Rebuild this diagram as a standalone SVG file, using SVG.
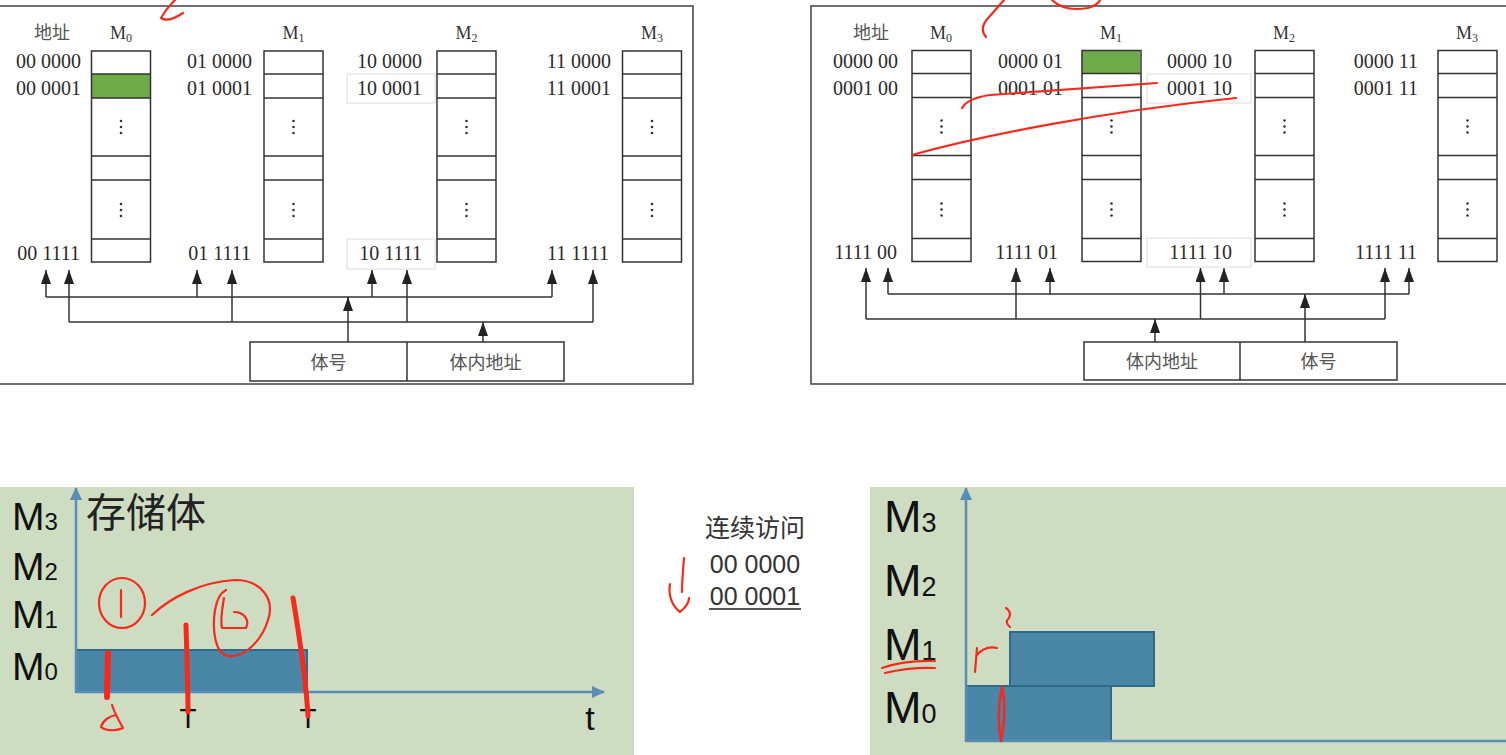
<svg xmlns="http://www.w3.org/2000/svg" width="1506" height="755" viewBox="0 0 1506 755">
<defs>
<style>
.frame{fill:none;stroke:#4d4d4d;stroke-width:1.6}
.cell{fill:none;stroke:#333;stroke-width:1.5}
.addr{font-family:"Liberation Serif",serif;font-size:20px;fill:#2b2b2b;text-anchor:end}
.mlab{font-family:"Liberation Serif",serif;font-size:18px;fill:#333;text-anchor:middle}
.cn{font-family:"Noto Sans CJK SC",sans-serif;font-size:18px;fill:#555;text-anchor:middle}
.hl{fill:none;stroke:#dcdcdc;stroke-width:1}
.wire{fill:none;stroke:#333;stroke-width:1.5}
.arr{fill:none;stroke:#333;stroke-width:1.5;marker-end:url(#ah)}
.green{fill:#6fab48}
.panel{fill:#cedcc1}
.axis{stroke:#5a8db5;stroke-width:2.5;fill:none}
.axarr{marker-end:url(#axh)}
.bar{fill:#4a86a7;stroke:#2f6a8b;stroke-width:2}
.big{font-family:"Liberation Sans",sans-serif;fill:#111}
.mid{font-family:"Liberation Sans","Noto Sans CJK SC",sans-serif;font-size:25px;fill:#333;text-anchor:middle}
.pen{fill:none;stroke:#f52a1c;stroke-width:2.2;stroke-linecap:round;stroke-linejoin:round}
</style>
<marker id="ah" markerUnits="userSpaceOnUse" markerWidth="14" markerHeight="10" refX="14" refY="5" orient="auto"><path d="M0,0 L14,5 L0,10 Z" fill="#222"/></marker>
<marker id="axh" markerUnits="userSpaceOnUse" markerWidth="14" markerHeight="12" refX="12" refY="6" orient="auto"><path d="M0,0 L13,6 L0,12 Z" fill="#5a8db5"/></marker>
<g id="colshape">
<rect x="0" y="51" width="59" height="211" class="cell"/>
<path d="M0,74H59M0,98H59M0,156H59M0,180H59M0,239H59" class="cell"/>
<g fill="#333"><circle cx="29.5" cy="121" r="1.3"/><circle cx="29.5" cy="127" r="1.3"/><circle cx="29.5" cy="133" r="1.3"/><circle cx="29.5" cy="204" r="1.3"/><circle cx="29.5" cy="210" r="1.3"/><circle cx="29.5" cy="216" r="1.3"/></g>
</g>
</defs>
<rect width="1506" height="755" fill="#fff"/>

<!-- top-left diagram -->
<g id="frameL"><rect x="-2" y="6" width="695" height="378" class="frame"/></g>
<g id="hlL"><rect x="347" y="74" width="88" height="29" class="hl"/><rect x="347" y="239" width="88" height="30" class="hl"/></g>
<g id="addrHeadL"><text x="52" y="39" class="cn">地址</text></g>
<g id="L-M0">
<rect x="91.5" y="74" width="59" height="24" class="green"/>
<use href="#colshape" transform="translate(91.5,0)"/>
<text x="121" y="39" class="mlab">M<tspan font-size="12" dy="3">0</tspan></text>
<text x="81" y="68" class="addr">00 0000</text><text x="81" y="95" class="addr">00 0001</text><text x="80" y="260" class="addr">00 1111</text>
</g>
<g id="L-M1">
<use href="#colshape" transform="translate(264,0)"/>
<text x="293.5" y="39" class="mlab">M<tspan font-size="12" dy="3">1</tspan></text>
<text x="252" y="68" class="addr">01 0000</text><text x="252" y="95" class="addr">01 0001</text><text x="251" y="260" class="addr">01 1111</text>
</g>
<g id="L-M2">
<use href="#colshape" transform="translate(437,0)"/>
<text x="466.5" y="39" class="mlab">M<tspan font-size="12" dy="3">2</tspan></text>
<text x="422" y="68" class="addr">10 0000</text><text x="422" y="95" class="addr">10 0001</text><text x="422" y="260" class="addr">10 1111</text>
</g>
<g id="L-M3">
<use href="#colshape" transform="translate(622.5,0)"/>
<text x="652" y="39" class="mlab">M<tspan font-size="12" dy="3">3</tspan></text>
<text x="611" y="68" class="addr">11 0000</text><text x="611" y="95" class="addr">11 0001</text><text x="609" y="260" class="addr">11 1111</text>
</g>
<g id="L-addrReg">
<rect x="250" y="342" width="314" height="39" class="cell"/>
<line x1="407" y1="342" x2="407" y2="381" class="cell"/>
<text x="328.5" y="369" class="cn">体号</text>
<text x="485.5" y="369" class="cn">体内地址</text>
</g>

<!-- top-right diagram -->
<g id="frameR"><rect x="811" y="6" width="700" height="378" class="frame"/></g>
<g id="hlR"><rect x="1147" y="74" width="104" height="29" class="hl"/><rect x="1147" y="238" width="104" height="29" class="hl"/></g>
<g id="addrHeadR"><text x="871" y="39" class="cn">地址</text></g>
<g id="R-M0">
<use href="#colshape" transform="translate(912,-0.5)"/>
<text x="941" y="39" class="mlab">M<tspan font-size="12" dy="3">0</tspan></text>
<text x="898" y="68" class="addr">0000 00</text><text x="898" y="95" class="addr">0001 00</text><text x="897" y="259" class="addr">1111 00</text>
</g>
<g id="R-M1">
<rect x="1082" y="50.5" width="58" height="23" class="green"/>
<use href="#colshape" transform="translate(1082,-0.5)"/>
<text x="1111" y="39" class="mlab">M<tspan font-size="12" dy="3">1</tspan></text>
<text x="1063" y="68" class="addr">0000 01</text><text x="1063" y="95" class="addr">0001 01</text><text x="1058" y="259" class="addr">1111 01</text>
</g>
<g id="R-M2">
<use href="#colshape" transform="translate(1255,-0.5)"/>
<text x="1284" y="39" class="mlab">M<tspan font-size="12" dy="3">2</tspan></text>
<text x="1232" y="68" class="addr">0000 10</text><text x="1232" y="95" class="addr">0001 10</text><text x="1232" y="259" class="addr">1111 10</text>
</g>
<g id="R-M3">
<use href="#colshape" transform="translate(1438,-0.5)"/>
<text x="1467" y="39" class="mlab">M<tspan font-size="12" dy="3">3</tspan></text>
<text x="1418" y="68" class="addr">0000 11</text><text x="1418" y="95" class="addr">0001 11</text><text x="1417" y="259" class="addr">1111 11</text>
</g>
<g id="R-addrReg">
<rect x="1084" y="342" width="313" height="38" class="cell"/>
<line x1="1240" y1="342" x2="1240" y2="380" class="cell"/>
<text x="1162" y="368" class="cn">体内地址</text>
<text x="1318.5" y="368" class="cn">体号</text>
</g>

<!-- connectors -->
<g id="connectors">
<path d="M46,297H552M69,322H593" class="wire"/>
<line x1="46" y1="297" x2="46" y2="270" class="arr"/>
<line x1="197" y1="297" x2="197" y2="270" class="arr"/>
<line x1="372" y1="297" x2="372" y2="270" class="arr"/>
<line x1="552" y1="297" x2="552" y2="270" class="arr"/>
<line x1="69" y1="322" x2="69" y2="270" class="arr"/>
<line x1="232" y1="322" x2="232" y2="270" class="arr"/>
<line x1="407" y1="322" x2="407" y2="270" class="arr"/>
<line x1="593" y1="322" x2="593" y2="270" class="arr"/>
<line x1="348" y1="342" x2="348" y2="297" class="arr"/>
<line x1="483" y1="342" x2="483" y2="322" class="arr"/>

<path d="M866,319H1385M888,294H1409" class="wire"/>
<line x1="866" y1="319" x2="866" y2="268" class="arr"/>
<line x1="1016" y1="319" x2="1016" y2="268" class="arr"/>
<line x1="1200.5" y1="319" x2="1200.5" y2="268" class="arr"/>
<line x1="1385" y1="319" x2="1385" y2="268" class="arr"/>
<line x1="888" y1="294" x2="888" y2="268" class="arr"/>
<line x1="1050" y1="294" x2="1050" y2="268" class="arr"/>
<line x1="1224" y1="294" x2="1224" y2="268" class="arr"/>
<line x1="1409" y1="294" x2="1409" y2="268" class="arr"/>
<line x1="1155" y1="342" x2="1155" y2="319" class="arr"/>
<line x1="1305" y1="342" x2="1305" y2="294" class="arr"/>
</g>

<!-- bottom-left timing chart -->
<g id="chartL">
<rect x="0" y="487" width="634" height="268" class="panel"/>
<rect x="76" y="650" width="231" height="42" class="bar"/>
<line x1="76" y1="692" x2="76" y2="488" class="axis axarr"/>
<line x1="76" y1="692" x2="604" y2="692" class="axis axarr"/>
<text x="12" y="530" class="big" font-size="39">M<tspan font-size="24">3</tspan></text>
<text x="12" y="580" class="big" font-size="39">M<tspan font-size="24">2</tspan></text>
<text x="12" y="628" class="big" font-size="39">M<tspan font-size="24">1</tspan></text>
<text x="12" y="680" class="big" font-size="39">M<tspan font-size="24">0</tspan></text>
<text x="86" y="527" font-family="Noto Sans CJK SC,sans-serif" font-size="40" fill="#222">存储体</text>
<text x="590" y="730" class="big" font-size="34" text-anchor="middle">t</text>
<text x="188" y="728" class="big" font-size="28" text-anchor="middle">T</text>
<text x="308" y="728" class="big" font-size="28" text-anchor="middle">T</text>
</g>

<!-- middle text -->
<g id="seqAccess">
<text x="755" y="537" class="mid">连续访问</text>
<text x="755" y="573" class="mid">00 0000</text>
<text x="755" y="605" class="mid">00 0001</text>
<line x1="709" y1="609" x2="801" y2="609" stroke="#555" stroke-width="2"/>
</g>

<!-- bottom-right timing chart -->
<g id="chartR">
<rect x="870" y="487" width="636" height="268" class="panel"/>
<rect x="966" y="686" width="145" height="55" class="bar"/>
<rect x="1010" y="632" width="144" height="54" class="bar"/>
<line x1="966" y1="741" x2="966" y2="488" class="axis axarr"/>
<line x1="966" y1="741" x2="1506" y2="741" class="axis"/>
<text x="884" y="532" class="big" font-size="45">M<tspan font-size="27">3</tspan></text>
<text x="884" y="596" class="big" font-size="45">M<tspan font-size="27">2</tspan></text>
<text x="884" y="660" class="big" font-size="45">M<tspan font-size="27">1</tspan></text>
<text x="884" y="723" class="big" font-size="45">M<tspan font-size="27">0</tspan></text>
</g>

<!-- red pen annotations -->
<g id="annotations" class="pen">
<path d="M175,0 Q166,9 161,18 Q168,23 183,13"/>
<path d="M986,37 Q978,28 990,16 L1004,0"/>
<path d="M1052,0 Q1064,12 1088,8 Q1098,5 1100,0"/>
<path d="M962,108 Q968,98 990,95 L1157,83"/>
<path d="M912,155 C980,136 1100,112 1236,98"/>
<ellipse cx="122" cy="603" rx="23" ry="25"/>
<path d="M121,590 L121,617"/>
<path d="M152,615 C170,598 200,582 235,580 C262,580 275,600 268,620 C262,640 245,658 228,656 C215,654 212,630 215,610 C217,598 222,592 226,590"/>
<path d="M224,598 C222,610 220,620 222,628 L246,628 C250,620 244,612 234,612"/>
<path d="M108,653 L107,697" stroke-width="6"/>
<path d="M186,625 C187,660 188,690 188,712" stroke-width="5"/>
<path d="M293,598 C300,640 306,680 308,716" stroke-width="5"/>
<path d="M112,705 C115,714 119,721 123,728 C115,732 104,730 101,727 C103,720 110,716 116,715"/>
<path d="M684,558 C683,570 682,582 682,592"/>
<path d="M670,584 C668,595 672,606 680,612 C685,608 689,603 689,598"/>
<path d="M882,668 Q905,660 935,661"/>
<path d="M885,673 Q910,667 935,668"/>
<path d="M975,672 L977,648 M976,656 Q985,645 997,648"/>
<path d="M1010,627 Q1004,622 1009,618 Q1012,612 1006,608"/>
<path d="M1002,687 C998,705 998,725 1001,741 C1005,720 1005,700 1002,687" stroke-width="2.5"/>
</g>
</svg>
